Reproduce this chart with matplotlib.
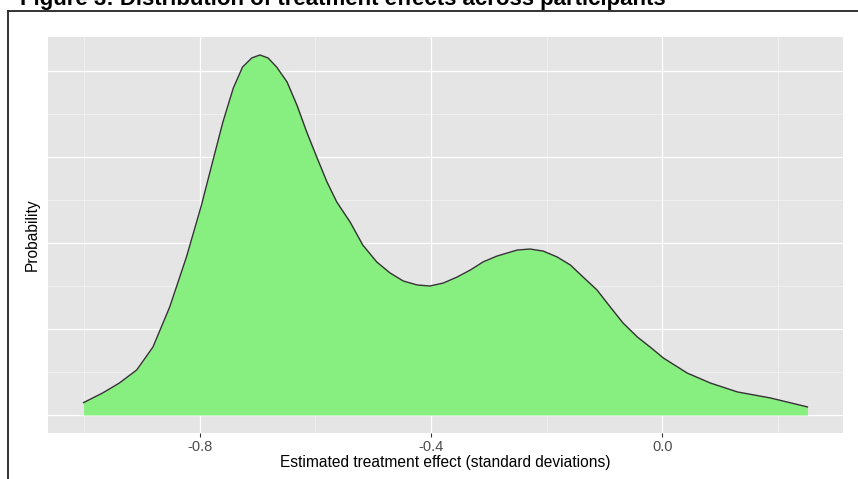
import numpy as np
import matplotlib
matplotlib.use("Agg")
import matplotlib.pyplot as plt
from matplotlib.lines import Line2D

plt.rcParams["font.family"] = ["Liberation Sans", "DejaVu Sans"]

# density curve
effect = [-1.001, -0.968, -0.939, -0.909, -0.881, -0.852, -0.823, -0.797, -0.777,
          -0.760, -0.742, -0.726, -0.710, -0.696, -0.682, -0.667, -0.649, -0.632,
          -0.615, -0.597, -0.580, -0.563, -0.540, -0.518, -0.494, -0.471, -0.448,
          -0.424, -0.402, -0.379, -0.355, -0.332, -0.310, -0.286, -0.251, -0.229,
          -0.206, -0.182, -0.159, -0.137, -0.113, -0.090, -0.068, -0.043, -0.021,
          0.002, 0.043, 0.083, 0.130, 0.187, 0.251]
density = [0.072, 0.128, 0.186, 0.262, 0.395, 0.628, 0.919, 1.221, 1.483,
           1.703, 1.901, 2.023, 2.076, 2.093, 2.076, 2.023, 1.936, 1.802,
           1.645, 1.494, 1.355, 1.238, 1.122, 0.988, 0.890, 0.826, 0.779,
           0.756, 0.750, 0.767, 0.802, 0.843, 0.890, 0.924, 0.959, 0.965,
           0.953, 0.919, 0.872, 0.802, 0.727, 0.628, 0.535, 0.453, 0.395,
           0.331, 0.244, 0.186, 0.134, 0.099, 0.047]

x_major = [-0.8, -0.4, 0.0]
x_minor = [-1.0, -0.6, -0.2, 0.2]
y_major = [0, 0.5, 1.0, 1.5, 2.0]
y_minor = [0.25, 0.75, 1.25, 1.75]

W, H = 858, 479
fig = plt.figure(figsize=(W / 100, H / 100), dpi=100)
ax = fig.add_axes([48 / W, 1 - 433 / H, (843 - 48) / W, (433 - 37) / H])
ax.set_facecolor("#E5E5E5")
for s in ax.spines.values():
    s.set_visible(False)

for v in x_minor:
    ax.axvline(v, color="#F4F4F4", lw=0.5, zorder=0)
for v in y_minor:
    ax.axhline(v, color="#F4F4F4", lw=0.5, zorder=0)
for v in x_major:
    ax.axvline(v, color="white", lw=0.9, zorder=0)
for v in y_major:
    ax.axhline(v, color="white", lw=0.9, zorder=0)

x = np.array(effect)
d = np.array(density)
ax.fill_between(x, 0, d, color="#87EF7F", lw=0, zorder=2)
ax.plot(x, d, color="#333333", lw=1.0, zorder=3, solid_joinstyle="round")

xmin, xmax = -1.0, 0.25
pad = (xmax - xmin) * 0.05
ax.set_xlim(xmin - pad, xmax + pad)
ymax = max(density)
ax.set_ylim(-0.05 * ymax, 1.05 * ymax)

ax.set_xticks(x_major)
ax.set_xticklabels(["-0.8", "-0.4", "0.0"], fontsize=10.5, color="#4D4D4D")
ax.tick_params(axis="x", length=3, color="#333333", width=0.8, pad=2)
ax.set_yticks([])
ax.set_xlabel("Estimated treatment effect (standard deviations)", fontsize=11.2, labelpad=1)
ax.set_ylabel("Probability", fontsize=11.2, labelpad=6)

# frame around the figure
fig.add_artist(Line2D([8 / W, 8 / W], [0, 1 - 11 / H], color="#222222", lw=1.3,
                      transform=fig.transFigure))
fig.add_artist(Line2D([8 / W, 1], [1 - 11 / H, 1 - 11 / H], color="#222222", lw=1.3,
                      transform=fig.transFigure))

fig.text(20 / W, 1 - 5 / H, "Figure 3: Distribution of treatment effects across participants",
         fontsize=16, fontweight="bold", va="baseline", ha="left")

fig.savefig("out.png", dpi=100)
